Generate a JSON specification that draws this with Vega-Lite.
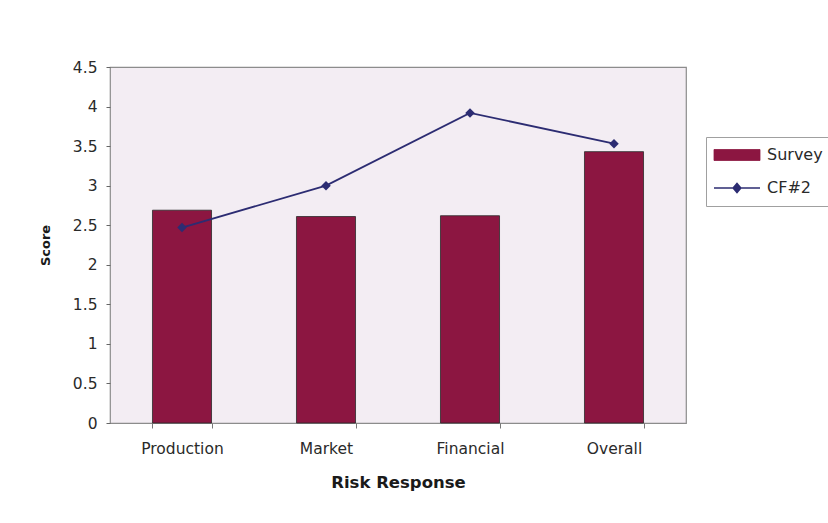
{
  "$schema": "https://vega.github.io/schema/vega-lite/v6.json",
  "description": "Risk response scores: survey bars with the CF#2 line",
  "autosize": "none",
  "width": 576,
  "height": 356,
  "padding": {"left": 110, "top": 67, "right": 142, "bottom": 100},
  "background": "#ffffff",
  "data": {
    "values": [
      {"category": "Production", "Survey": 2.69, "CF2": 2.47},
      {"category": "Market", "Survey": 2.61, "CF2": 3.0},
      {"category": "Financial", "Survey": 2.62, "CF2": 3.92},
      {"category": "Overall", "Survey": 3.43, "CF2": 3.53}
    ]
  },
  "encoding": {
    "x": {
      "field": "category",
      "type": "nominal",
      "sort": null,
      "scale": {"paddingInner": 0.59, "paddingOuter": 0.295},
      "axis": {
        "title": "Risk Response",
        "labelAngle": 0,
        "tickBand": "extent",
        "ticks": true,
        "tickSize": 5,
        "tickColor": "#777777",
        "domain": false,
        "labelPadding": 13,
        "titlePadding": 18,
        "labelFont": "DejaVu Sans",
        "labelFontSize": 15.5,
        "labelColor": "#2a2a2a",
        "titleFont": "DejaVu Sans",
        "titleFontWeight": "bold",
        "titleFontSize": 16.5,
        "titleColor": "#1a1a1a"
      }
    }
  },
  "layer": [
    {
      "mark": {"type": "bar", "stroke": "#2a2a2a", "strokeWidth": 0.8},
      "encoding": {
        "y": {
          "field": "Survey",
          "type": "quantitative",
          "scale": {"domain": [0, 4.5], "nice": false},
          "axis": {
            "title": "Score",
            "values": [0, 0.5, 1, 1.5, 2, 2.5, 3, 3.5, 4, 4.5],
            "labelExpr": "'' + datum.value",
            "labelOverlap": false,
            "grid": false,
            "domain": false,
            "tickSize": 4,
            "tickColor": "#666666",
            "labelPadding": 9,
            "titlePadding": 20,
            "labelFont": "DejaVu Sans",
            "labelFontSize": 15.5,
            "labelColor": "#2a2a2a",
            "titleFont": "DejaVu Sans",
            "titleFontWeight": "bold",
            "titleFontSize": 13,
            "titleColor": "#1a1a1a"
          }
        },
        "color": {
          "datum": "Survey",
          "legend": {
            "encode": {
              "symbols": {
                "update": {
                  "shape": {"signal": "datum.value === 'Survey' ? 'M-1,-0.55H3.6V0.55H-1Z' : 'M-1,0H3.6M1.3,-0.45L1.68,0L1.3,0.45L0.92,0Z'"},
                  "fill": {"signal": "datum.value === 'Survey' ? '#8c1641' : '#1b1f4f'"},
                  "stroke": {"signal": "datum.value === 'Survey' ? '#2a2a2a' : '#2c2c72'"},
                  "strokeWidth": {"signal": "datum.value === 'Survey' ? 0.8 : 1.6"}
                }
              }
            }
          }
        }
      }
    },
    {
      "mark": {
        "type": "line",
        "strokeWidth": 1.8,
        "point": {"shape": "diamond", "filled": true, "size": 90, "color": "#1b1f4f"}
      },
      "encoding": {
        "y": {
          "field": "CF2",
          "type": "quantitative",
          "axis": {
            "title": "Score",
            "values": [0, 0.5, 1, 1.5, 2, 2.5, 3, 3.5, 4, 4.5],
            "labelExpr": "'' + datum.value",
            "labelOverlap": false,
            "grid": false,
            "domain": false,
            "tickSize": 4,
            "tickColor": "#666666",
            "labelPadding": 9,
            "titlePadding": 20,
            "labelFont": "DejaVu Sans",
            "labelFontSize": 15.5,
            "labelColor": "#2a2a2a",
            "titleFont": "DejaVu Sans",
            "titleFontWeight": "bold",
            "titleFontSize": 13,
            "titleColor": "#1a1a1a"
          }
        },
        "color": {
          "datum": "CF#2",
          "legend": {
            "encode": {
              "symbols": {
                "update": {
                  "shape": {"signal": "datum.value === 'Survey' ? 'M-1,-0.55H3.6V0.55H-1Z' : 'M-1,0H3.6M1.3,-0.45L1.68,0L1.3,0.45L0.92,0Z'"},
                  "fill": {"signal": "datum.value === 'Survey' ? '#8c1641' : '#1b1f4f'"},
                  "stroke": {"signal": "datum.value === 'Survey' ? '#2a2a2a' : '#2c2c72'"},
                  "strokeWidth": {"signal": "datum.value === 'Survey' ? 0.8 : 1.6"}
                }
              }
            }
          }
        }
      }
    }
  ],
  "config": {
    "view": {"stroke": "#8c8c8c", "strokeWidth": 1.2, "fill": "#f3edf3"},
    "range": {"category": ["#8c1641", "#2c2c72"]},
    "legend": {
      "orient": "none",
      "legendX": 596,
      "legendY": 70,
      "title": null,
      "strokeColor": "#a0a0a0",
      "padding": 10,
      "symbolSize": 400,
      "rowPadding": 17,
      "labelOffset": 35,
      "labelFont": "DejaVu Sans",
      "labelFontSize": 16,
      "labelColor": "#2a2a2a",
      "labelLimit": 200
    }
  }
}
